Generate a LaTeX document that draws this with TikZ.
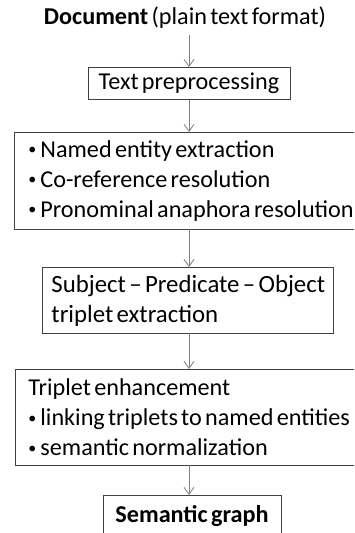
\documentclass[tikz,border=0pt]{standalone}
\usepackage{fontspec}
\setmainfont{Carlito}[WordSpace=0.6]
\usetikzlibrary{arrows.meta}
\definecolor{boxc}{HTML}{404040}
\definecolor{arrc}{HTML}{7F7F7F}
\newcommand\bul{\raisebox{2.5pt}{\fontsize{16}{16}\selectfont\textbullet}\hspace{4pt}}
\begin{document}
\begin{tikzpicture}[x=1pt,y=-1pt,
  every node/.style={font=\fontsize{24.2}{30}\selectfont, text=black},
  box/.style={draw=boxc, line width=0.9pt, rectangle, inner ysep=0pt},
  para/.style={align=flush left, execute at begin node={\spaceskip=0pt\xspaceskip=0pt}},
  flow/.style={draw=arrc, line width=0.8pt, -{Straight Barb[length=7pt,width=10pt]}}]
\useasboundingbox (0,0) rectangle (354,533);
\clip (0,0) rectangle (354,533);
\fill[white] (0,0) rectangle (354,533);

\node (doc) at (185,18) {\textbf{Document} (plain text format)};

\node[box, anchor=north, minimum width=202pt, minimum height=32pt, inner xsep=0pt]
  (pre) at (189,67) {Text preprocessing};

\node[box, para, anchor=north west, minimum height=97pt, inner xsep=14pt,
  text width=340pt]
  (ner) at (14,132) {\bul Named entity extraction\\
  \bul Co-reference resolution\\
  \bul Pronominal anaphora resolution};

\node[box, para, anchor=north west, minimum height=66pt, inner xsep=9pt,
  text width=273pt, font=\fontsize{24.8}{30}\selectfont]
  (spo) at (42,267) {\mbox{Subject -- Predicate -- Object}\\
  triplet extraction};

\node[box, para, anchor=north west, minimum height=96pt, inner xsep=13pt,
  text width=340pt]
  (enh) at (15,369) {Triplet enhancement\\
  \bul linking triplets to named entities\\
  \bul semantic normalization};

\node[box, anchor=north, minimum width=178pt, minimum height=42pt, inner xsep=0pt]
  (sg) at (192,495) {\textbf{Semantic graph}};

\coordinate (a0) at (189,35);
\draw[flow] (a0) -- (pre.north);
\draw[flow] (pre.south) -- (189,132);
\draw[flow] (189,229) -- (189,267);
\draw[flow] (189,333) -- (189,369);
\draw[flow] (189,465) -- (189,495);
\end{tikzpicture}
\end{document}
